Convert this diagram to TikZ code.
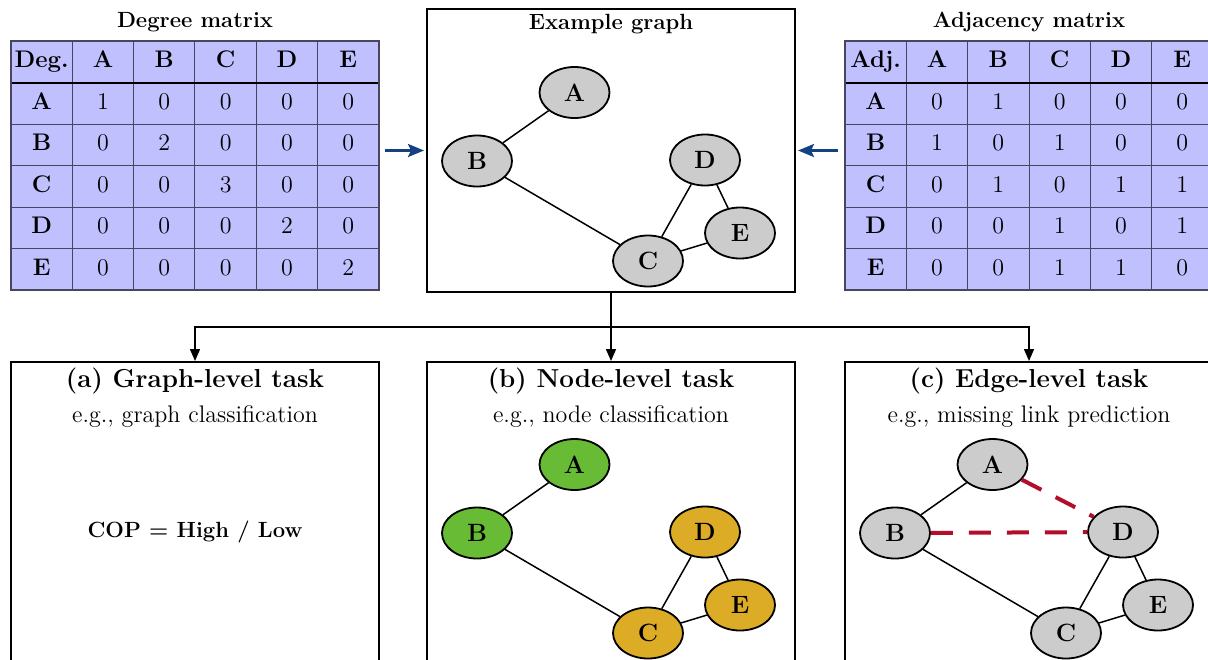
\documentclass[tikz,border=0pt]{standalone}
\usepackage{xcolor}
\usepackage{tikz}
\usetikzlibrary{shapes.geometric,arrows.meta,positioning,calc}
\definecolor{matfill}{RGB}{192,192,255}
\definecolor{matline}{RGB}{70,70,95}
\definecolor{flowblue}{RGB}{20,65,130}
\definecolor{nodegray}{RGB}{204,204,204}
\definecolor{nodegreen}{RGB}{104,187,52}
\definecolor{nodegold}{RGB}{221,172,38}
\definecolor{linkred}{RGB}{178,14,42}

\begin{document}
\begin{tikzpicture}[x=0.5pt, y=-0.5pt, font=\fontsize{12}{14}\selectfont,
    cell/.style={rectangle, draw=matline, fill=matfill, line width=0.5pt, minimum width=30.67pt, minimum height=20.75pt, inner sep=0pt, outer sep=0pt, text height=8.5pt, text depth=2.5pt},
    head/.style={cell, font=\fontsize{12}{14}\selectfont\bfseries},
    panel/.style={rectangle, draw, line width=1pt, minimum width=184pt, inner sep=0pt},
    title/.style={font=\fontsize{11}{13}\selectfont\bfseries},
    tasktitle/.style={font=\fontsize{13}{15}\selectfont\bfseries},
    vertex/.style={ellipse, draw, line width=0.9pt, fill=nodegray, minimum width=35pt, minimum height=25.5pt, inner sep=0pt, font=\fontsize{12.5}{14}\selectfont\bfseries},
    edge/.style={line width=0.75pt},
    missing/.style={draw=linkred, line width=2pt, dash pattern=on 11pt off 8pt},
    flow/.style={draw=flowblue, line width=1.3pt, -{Stealth[length=8pt,width=6.5pt,inset=1.5pt]}},
    branch/.style={line width=0.75pt, -{Triangle[length=6pt,width=5pt]}}]

    \useasboundingbox (0,0) rectangle (1208,659);

    % degree matrix
    \node[title] (degtitle) at (195,22) {Degree matrix};
    \foreach \lab [count=\c from 0] in {Deg.,A,B,C,D,E}
        \node[head] (deg-0-\c) at ({11+61.33*(\c+0.5)},61.75) {\lab};
    \foreach \lab/\row [count=\r] in {A/{1,0,0,0,0},B/{0,2,0,0,0},C/{0,0,3,0,0},D/{0,0,0,2,0},E/{0,0,0,0,2}} {
        \node[head] (deg-\r-0) at (41.67,{61.75+41.5*\r}) {\lab};
        \foreach \v [count=\c] in \row
            \node[cell] (deg-\r-\c) at ({11+61.33*(\c+0.5)},{61.75+41.5*\r}) {\v};
    }
    \draw[line width=1pt] (deg-0-0.south west) -- (deg-0-5.south east);
    \draw[matline, line width=0.8pt] (deg-0-0.north west) rectangle (deg-5-5.south east);

    % adjacency matrix
    \node[title] (adjtitle) at (1029,22) {Adjacency matrix};
    \foreach \lab [count=\c from 0] in {Adj.,A,B,C,D,E}
        \node[head] (adj-0-\c) at ({845+61.33*(\c+0.5)},61.75) {\lab};
    \foreach \lab/\row [count=\r] in {A/{0,1,0,0,0},B/{1,0,1,0,0},C/{0,1,0,1,1},D/{0,0,1,0,1},E/{0,0,1,1,0}} {
        \node[head] (adj-\r-0) at (875.67,{61.75+41.5*\r}) {\lab};
        \foreach \v [count=\c] in \row
            \node[cell] (adj-\r-\c) at ({845+61.33*(\c+0.5)},{61.75+41.5*\r}) {\v};
    }
    \draw[line width=1pt] (adj-0-0.south west) -- (adj-0-5.south east);
    \draw[matline, line width=0.8pt] (adj-0-0.north west) rectangle (adj-5-5.south east);

    % example graph
    \node[panel, minimum height=141.5pt] (ex) at (611,150.5) {};
    \node[title] (extitle) at (611,24) {Example graph};
    \begin{scope}[name prefix=g-]
        \node[vertex] (A) at (574.5,92.5) {A};
        \node[vertex] (B) at (477,161) {B};
        \node[vertex] (D) at (705,160) {D};
        \node[vertex] (E) at (740,233) {E};
        \node[vertex] (C) at (648,261) {C};
        \draw[edge] (A) -- (B);
        \draw[edge] (B) -- (C);
        \draw[edge] (C) -- (D);
        \draw[edge] (D) -- (E);
        \draw[edge] (C) -- (E);
    \end{scope}

    \draw[flow, shorten <=3pt, shorten >=1pt] (deg-2-5.east |- ex.west) -- (ex.west);
    \draw[flow, shorten <=3.5pt, shorten >=1pt] (adj-2-0.west |- ex.east) -- (ex.east);

    % task panels
    \node[panel, minimum height=160pt] (pa) at (195,522) {};
    \node[panel, minimum height=160pt] (pb) at (611,522) {};
    \node[panel, minimum height=160pt] (pc) at (1029,522) {};

    \coordinate (split) at (611,327);
    \draw[branch] (ex.south) -- (pb.north);
    \draw[branch] (split) -| (pa.north);
    \draw[branch] (split) -| (pc.north);

    \node[tasktitle] (patitle) at (195,381) {(a) Graph-level task};
    \node (pasub) at (195,417) {e.g., graph classification};
    \node[title] (cop) at (195,532) {COP = High / Low};

    \node[tasktitle] (pbtitle) at (611,381) {(b) Node-level task};
    \node (pbsub) at (611,417) {e.g., node classification};
    \begin{scope}[shift={(0,372)}, name prefix=n-]
        \node[vertex, fill=nodegreen] (A) at (574.5,92.5) {A};
        \node[vertex, fill=nodegreen] (B) at (477,161) {B};
        \node[vertex, fill=nodegold] (D) at (705,160) {D};
        \node[vertex, fill=nodegold] (E) at (740,233) {E};
        \node[vertex, fill=nodegold] (C) at (648,261) {C};
        \draw[edge] (A) -- (B);
        \draw[edge] (B) -- (C);
        \draw[edge] (C) -- (D);
        \draw[edge] (D) -- (E);
        \draw[edge] (C) -- (E);
    \end{scope}

    \node[tasktitle] (pctitle) at (1029,381) {(c) Edge-level task};
    \node (pcsub) at (1029,417) {e.g., missing link prediction};
    \begin{scope}[shift={(418,372)}, name prefix=e-]
        \node[vertex] (A) at (574.5,92.5) {A};
        \node[vertex] (B) at (477,161) {B};
        \node[vertex] (D) at (705,160) {D};
        \node[vertex] (E) at (740,233) {E};
        \node[vertex] (C) at (648,261) {C};
        \draw[edge] (A) -- (B);
        \draw[edge] (B) -- (C);
        \draw[edge] (C) -- (D);
        \draw[edge] (D) -- (E);
        \draw[edge] (C) -- (E);
        \draw[missing] (A) -- (D);
        \draw[missing] (B) -- (D);
    \end{scope}
\end{tikzpicture}
\end{document}
